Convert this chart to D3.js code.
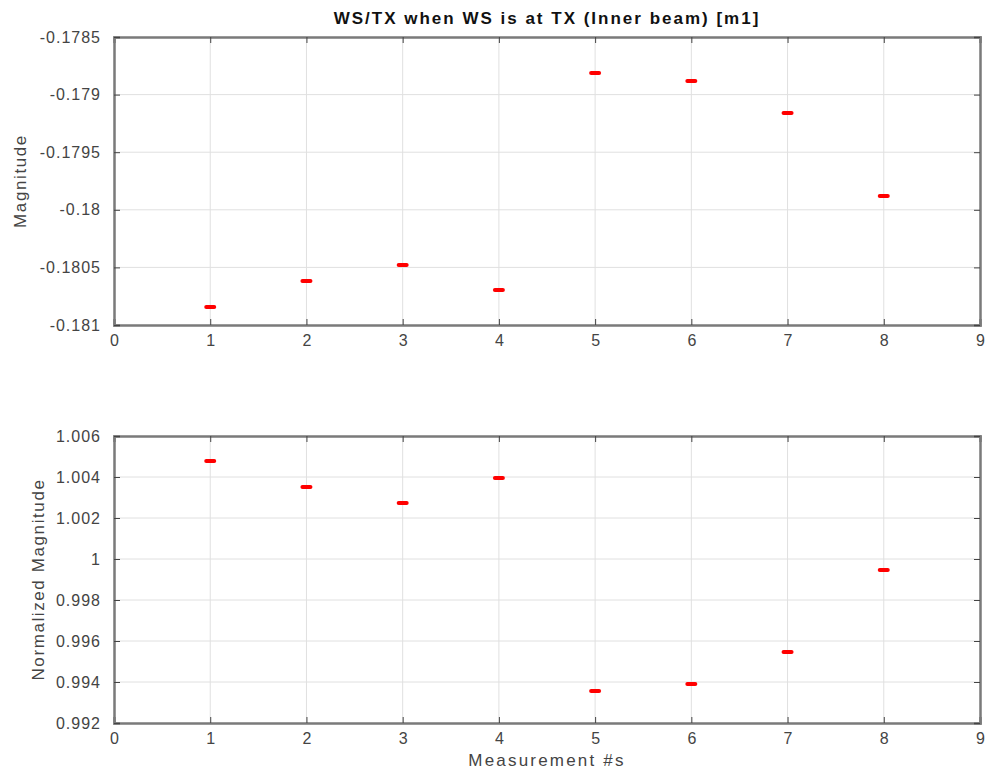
<!DOCTYPE html>
<html><head><meta charset="utf-8">
<script src="https://cdn.jsdelivr.net/npm/d3@7"></script>
<style>body{margin:0;background:#fff}svg{display:block}</style>
</head><body>
<script>
const measurements = [1,2,3,4,5,6,7,8];
const magnitude = [-0.180844,-0.180618,-0.180479,-0.180696,-0.178813,-0.178882,-0.179160,-0.179880];
const normalized = [1.00478,1.00351,1.00273,1.00395,0.99356,0.99390,0.99546,0.99946];
const xTicks = [0,1,2,3,4,5,6,7,8,9];
const topYTicks = [-0.181,-0.1805,-0.18,-0.1795,-0.179,-0.1785];
const topYLabels = ["-0.181","-0.1805","-0.18","-0.1795","-0.179","-0.1785"];
const botYTicks = [0.992,0.994,0.996,0.998,1,1.002,1.004,1.006];
const botYLabels = ["0.992","0.994","0.996","0.998","1","1.002","1.004","1.006"];
const title = "WS/TX when WS is at TX (Inner beam) [m1]";

const W=985,H=771;
const svg=d3.select("body").append("svg").attr("width",W).attr("height",H);
const font="'Liberation Sans', Arial, Helvetica, sans-serif";
const L=114,R=980;
const x=d3.scaleLinear().domain([0,9]).range([L,R]);

function panel(top,bottom,domain,ticks,labels,vals,ylabel,ylabelX,xlabel){
  const y=d3.scaleLinear().domain(domain).range([bottom,top]);
  const g=svg.append("g");
  g.selectAll(".gx").data(xTicks.slice(1,-1)).enter().append("line")
    .attr("x1",d=>x(d)).attr("x2",d=>x(d)).attr("y1",top).attr("y2",bottom)
    .attr("stroke","#e0e0e0").attr("stroke-width",1);
  g.selectAll(".gy").data(ticks.slice(1,-1)).enter().append("line")
    .attr("x1",L).attr("x2",R).attr("y1",d=>y(d)).attr("y2",d=>y(d))
    .attr("stroke","#e0e0e0").attr("stroke-width",1);
  const ax=d3.axisBottom(x).tickValues(xTicks).tickSize(-6).tickPadding(10).tickFormat(d3.format("d"));
  const gb=g.append("g").attr("transform",`translate(0,${bottom})`).call(ax);
  const gt=g.append("g").attr("transform",`translate(0,${top})`).call(d3.axisTop(x).tickValues(xTicks).tickSize(-6).tickFormat(""));
  const ay=d3.axisLeft(y).tickValues(ticks).tickSize(-6).tickPadding(13).tickFormat((d,i)=>labels[i]);
  const gl=g.append("g").attr("transform",`translate(${L},0)`).call(ay);
  const gr=g.append("g").attr("transform",`translate(${R},0)`).call(d3.axisRight(y).tickValues(ticks).tickSize(-6).tickFormat(""));
  [gb,gt,gl,gr].forEach(a=>{
    a.select(".domain").attr("stroke","#7a7a7a").attr("stroke-width",2.5);
    a.selectAll(".tick line").attr("stroke","#444").attr("stroke-width",1);
    a.selectAll("text").attr("font-family",font).attr("font-size",16).attr("letter-spacing","1px").attr("fill","#444");
  });
  gb.selectAll("text").attr("dx","0.5px");
  g.selectAll(".m").data(vals).enter().append("rect")
    .attr("x",(d,i)=>x(measurements[i])-6).attr("y",d=>y(d)-2)
    .attr("width",12).attr("height",4).attr("rx",2)
    .attr("fill","#ff0000");
  g.append("text").attr("transform",`translate(${ylabelX},${(top+bottom)/2}) rotate(-90)`)
    .attr("text-anchor","middle").attr("font-family",font).attr("font-size",17).attr("letter-spacing","1.6px").attr("fill","#444").text(ylabel);
  if(xlabel) g.append("text").attr("x",(L+R)/2).attr("y",bottom+43).attr("text-anchor","middle")
    .attr("font-family",font).attr("font-size",17).attr("letter-spacing","2.2px").attr("fill","#444").text(xlabel);
}
panel(37,325,[-0.181,-0.1785],topYTicks,topYLabels,magnitude,"Magnitude",26,null);
panel(436,723,[0.992,1.006],botYTicks,botYLabels,normalized,"Normalized Magnitude",44,"Measurement #s");
svg.append("text").attr("x",(L+R)/2).attr("y",24).attr("text-anchor","middle")
  .attr("font-family",font).attr("font-weight","bold").attr("font-size",17).attr("letter-spacing","2px").attr("fill","#111").text(title);
</script>
</body></html>
